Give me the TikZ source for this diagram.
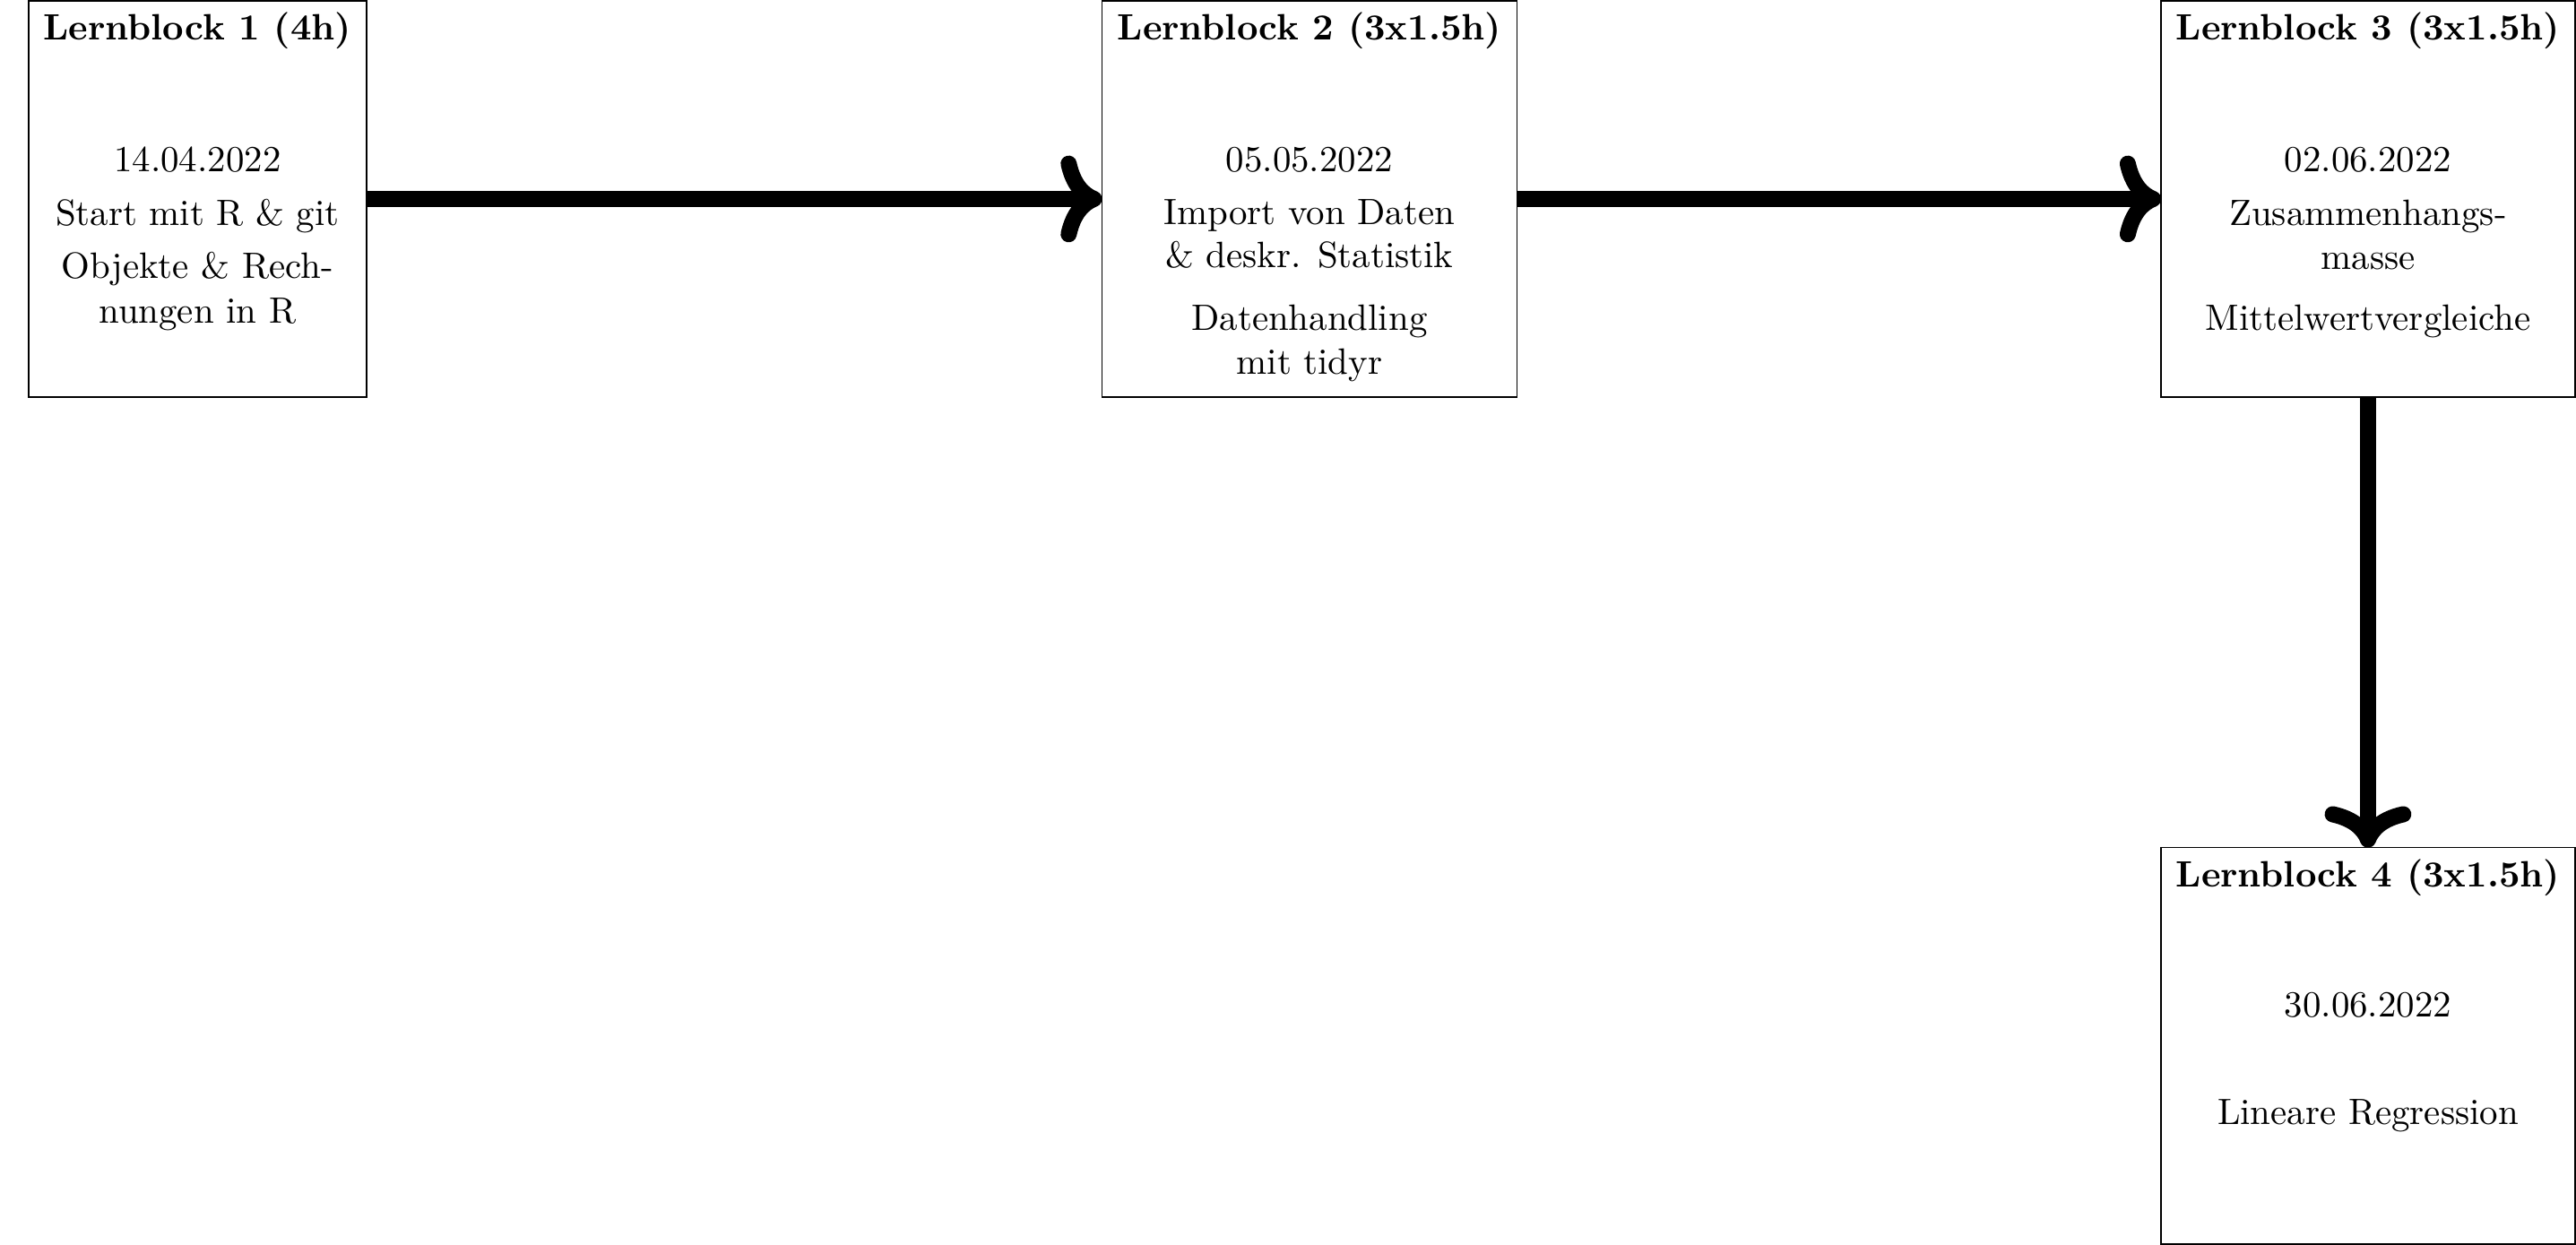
\documentclass[tikz,border=0pt]{standalone}
\usetikzlibrary{arrows.meta}
\begin{document}
\begin{tikzpicture}[x=1pt,y=-1pt,
  blockbox/.style={draw, line width=0.4pt, inner sep=0pt, outer sep=0pt,
    anchor=north west, minimum height=108.2pt},
  titletext/.style={anchor=base, inner sep=0pt, font=\bfseries},
  bodytext/.style={anchor=base, inner sep=0pt},
  flowarrow/.style={-{Computer Modern Rightarrow}, line width=4.4pt}]
\useasboundingbox (0,0) rectangle (702.7,339.6);

% boxes
\node[blockbox, minimum width=92.25pt] (b1) at (7.75,0.17) {};
\node[blockbox, minimum width=113.2pt] (b2) at (300.6,0.17) {};
\node[blockbox, minimum width=112.9pt] (b3) at (589.5,0.17) {};
\node[blockbox, minimum width=112.9pt] (b4) at (589.5,231.2) {};

% box 1
\node[titletext] (t1) at ([yshift=-10.76pt]b1.north) {Lernblock 1 (4h)};
\node[bodytext] (d1) at ([yshift=-46.7pt]b1.north) {14.04.2022};
\node[bodytext] (p1a) at ([yshift=-61.3pt]b1.north) {Start mit R \& git};
\node[bodytext] (p1b) at ([yshift=-75.8pt]b1.north) {Objekte \& Rech-};
\node[bodytext] (p1c) at ([yshift=-88.0pt]b1.north) {nungen in R};

% box 2
\node[titletext] (t2) at ([yshift=-10.76pt]b2.north) {Lernblock 2 (3x1.5h)};
\node[bodytext] (d2) at ([yshift=-46.6pt]b2.north) {05.05.2022};
\node[bodytext] (p2a) at ([yshift=-61.1pt]b2.north) {Import von Daten};
\node[bodytext] (p2b) at ([yshift=-72.9pt]b2.north) {\& deskr. Statistik};
\node[bodytext] (p2c) at ([yshift=-90.0pt]b2.north) {Datenhandling};
\node[bodytext] (p2d) at ([yshift=-102.0pt]b2.north) {mit tidyr};

% box 3
\node[titletext] (t3) at ([yshift=-10.76pt]b3.north) {Lernblock 3 (3x1.5h)};
\node[bodytext] (d3) at ([yshift=-46.6pt]b3.north) {02.06.2022};
\node[bodytext] (p3a) at ([yshift=-61.3pt]b3.north) {Zusammenhangs-};
\node[bodytext] (p3b) at ([yshift=-73.3pt]b3.north) {masse};
\node[bodytext] (p3c) at ([yshift=-90.0pt]b3.north) {Mittelwertvergleiche};

% box 4
\node[titletext] (t4) at ([yshift=-10.76pt]b4.north) {Lernblock 4 (3x1.5h)};
\node[bodytext] (d4) at ([yshift=-46.3pt]b4.north) {30.06.2022};
\node[bodytext] (p4a) at ([yshift=-75.6pt]b4.north) {Lineare Regression};

% arrows
\draw[flowarrow] (b1.east) -- (b2.west);
\draw[flowarrow] (b2.east) -- (b3.west);
\draw[flowarrow] (b3.south) -- (b4.north);
\end{tikzpicture}
\end{document}
